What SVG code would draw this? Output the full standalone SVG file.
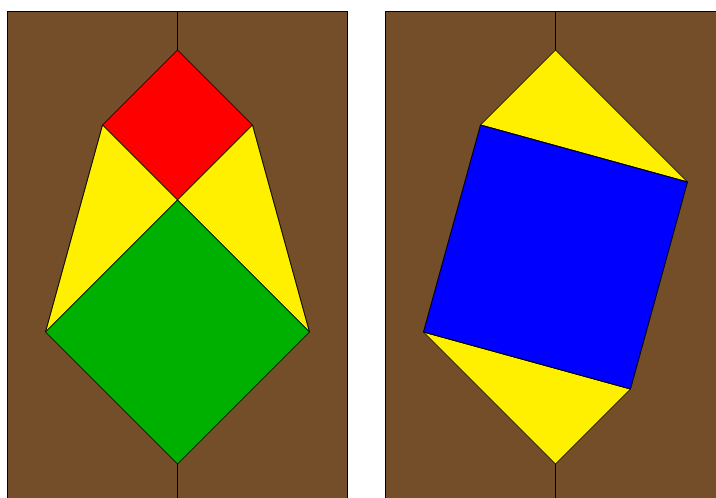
<svg xmlns="http://www.w3.org/2000/svg" width="716" height="498" viewBox="0 0 716 498">
<style>
.board{fill:#744e28;stroke:#000;stroke-width:1}
.p{stroke:#000;stroke-width:1;stroke-linejoin:miter}
.y{fill:#fff000}
.line{stroke:#000;stroke-width:1;fill:none}
</style>
<rect width="716" height="498" fill="#fff"/>
<g id="left-panel">
<rect class="board" x="7.5" y="11.5" width="340" height="500"/>
<line class="line" x1="177.5" y1="11.5" x2="177.5" y2="50"/>
<line class="line" x1="177.5" y1="464" x2="177.5" y2="510"/>
<polygon id="red-square" class="p" fill="#ff0000" points="177.5,50 252.5,125 177.5,200 102.5,125"/>
<polygon id="yellow-left" class="p y" points="102.5,125 177.5,200 45.5,332"/>
<polygon id="yellow-right" class="p y" points="252.5,125 177.5,200 309.5,332"/>
<polygon id="green-square" class="p" fill="#00b000" points="177.5,200 309.5,332 177.5,464 45.5,332"/>
</g>
<g id="right-panel">
<rect class="board" x="385.5" y="11.5" width="340" height="500"/>
<line class="line" x1="555.5" y1="11.5" x2="555.5" y2="50"/>
<line class="line" x1="555.5" y1="464" x2="555.5" y2="510"/>
<polygon id="yellow-top" class="p y" points="555.5,50 687.5,182 480.5,125"/>
<polygon id="yellow-bottom" class="p y" points="555.5,464 423.5,332 630.5,389"/>
<polygon id="blue-square" class="p" fill="#0000ff" points="480.5,125 687.5,182 630.5,389 423.5,332"/>
</g>
</svg>
